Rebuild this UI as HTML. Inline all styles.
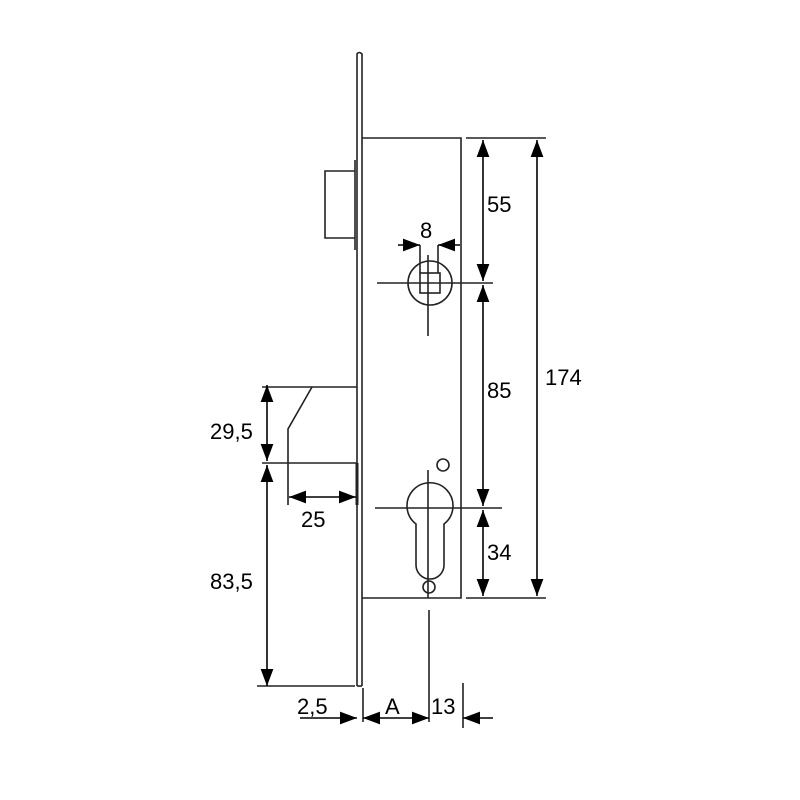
<!DOCTYPE html>
<html><head><meta charset="utf-8"><style>html,body{margin:0;padding:0;background:#fff}svg{display:block}</style></head>
<body>
<svg width="800" height="800" viewBox="0 0 800 800" xmlns="http://www.w3.org/2000/svg">
<defs>
<marker id="a" viewBox="0 0 16 12" refX="16" refY="6" markerWidth="17" markerHeight="13" markerUnits="userSpaceOnUse" orient="auto-start-reverse"><path d="M0,0 L16,6 L0,12 z" fill="#000"/></marker>
</defs>
<g fill="none" stroke="#222" stroke-width="1.6">
<path d="M357,686 V54 Q359,51 362,54 V686"/>
<line x1="357" y1="686" x2="362" y2="686"/>
<path d="M362,138 H461 V598 H362"/>
<path d="M355,171 H325 V238 H355"/>
<line x1="355" y1="160" x2="355" y2="250"/>
<line x1="262" y1="387" x2="357" y2="387"/>
<path d="M312,387 L288,429 V505"/>
<line x1="262" y1="463" x2="357" y2="463"/>
<line x1="357" y1="463" x2="357" y2="505" stroke-width="3"/>
<line x1="257" y1="686" x2="355" y2="686"/>
<circle cx="430" cy="283" r="22"/>
<rect x="420" y="273" width="20" height="20"/>
<line x1="377" y1="283" x2="493" y2="283"/>
<line x1="428" y1="255" x2="428" y2="336"/>
<line x1="420" y1="245" x2="420" y2="273"/>
<line x1="438" y1="245" x2="438" y2="273"/>
<path d="M416,524 A23,23 0 1 1 444,524 V565 A14,14 0 0 1 416,565 Z"/>
<circle cx="443" cy="465" r="6"/>
<circle cx="429" cy="587" r="6"/>
<line x1="375" y1="508" x2="502" y2="508"/>
<line x1="428" y1="470" x2="428" y2="598"/>
<line x1="466" y1="138" x2="546" y2="138"/>
<line x1="466" y1="598" x2="546" y2="598"/>
<line x1="429" y1="610" x2="429" y2="722"/>
<line x1="463" y1="683" x2="463" y2="728"/>
<line x1="363" y1="688" x2="363" y2="722"/>
</g>
<g stroke="#000" stroke-width="1.6" fill="none">
<line x1="483" y1="140" x2="483" y2="281" marker-start="url(#a)" marker-end="url(#a)"/>
<line x1="483" y1="285" x2="483" y2="506" marker-start="url(#a)" marker-end="url(#a)"/>
<line x1="483" y1="510" x2="483" y2="596" marker-start="url(#a)" marker-end="url(#a)"/>
<line x1="537" y1="140" x2="537" y2="596" marker-start="url(#a)" marker-end="url(#a)"/>
<line x1="398" y1="245" x2="420" y2="245" marker-end="url(#a)"/>
<line x1="460" y1="245" x2="438" y2="245" marker-end="url(#a)"/>
<line x1="267" y1="385" x2="267" y2="461" marker-start="url(#a)" marker-end="url(#a)"/>
<line x1="267" y1="465" x2="267" y2="686" marker-start="url(#a)" marker-end="url(#a)"/>
<line x1="289" y1="497" x2="356" y2="497" marker-start="url(#a)" marker-end="url(#a)"/>
<line x1="300" y1="718" x2="357" y2="718" marker-end="url(#a)"/>
<line x1="363" y1="718" x2="429" y2="718" marker-start="url(#a)" marker-end="url(#a)"/>
<line x1="493" y1="718" x2="463" y2="718" marker-end="url(#a)"/>
</g>
<g font-family="'Liberation Sans', Arial, sans-serif" font-size="22" fill="#000">
<text x="487" y="212">55</text>
<text x="420" y="238">8</text>
<text x="487" y="398">85</text>
<text x="545" y="385">174</text>
<text x="487" y="560">34</text>
<text x="210" y="439">29,5</text>
<text x="301" y="527">25</text>
<text x="210" y="589">83,5</text>
<text x="297" y="714">2,5</text>
<text x="385" y="714">A</text>
<text x="431" y="714">13</text>
</g>
</svg>
</body></html>
